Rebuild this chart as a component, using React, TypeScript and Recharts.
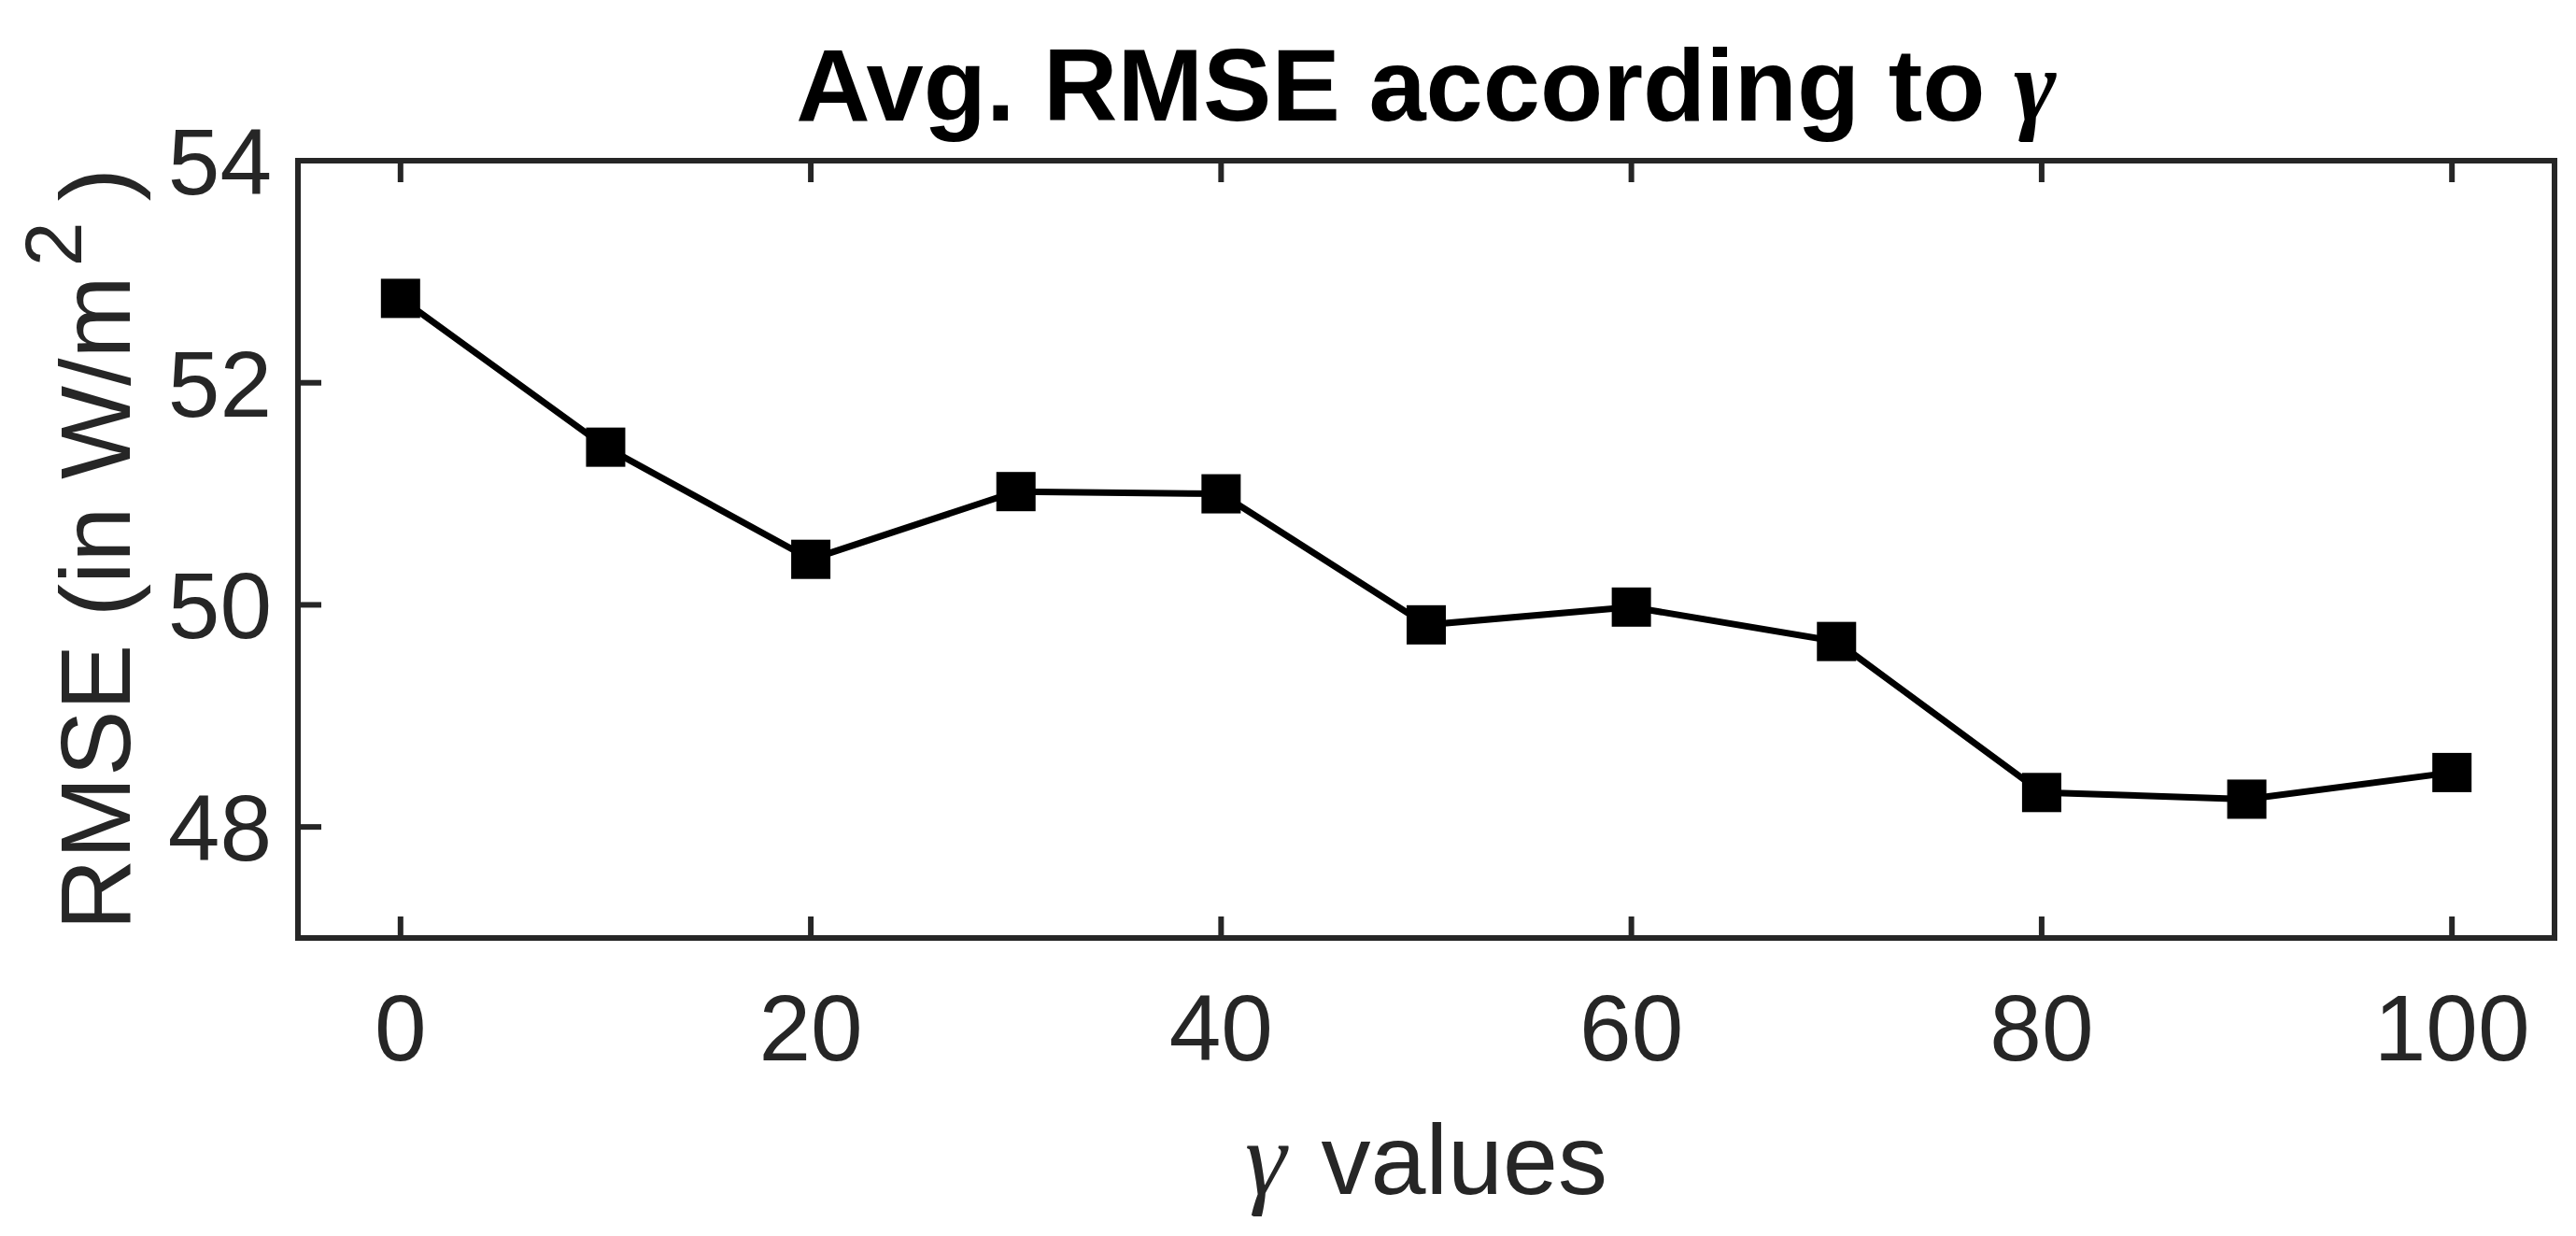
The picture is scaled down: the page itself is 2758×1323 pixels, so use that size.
import React from 'react';
import { LineChart, Line, XAxis, YAxis, Label } from 'recharts';

const gammaValues = [0, 10, 20, 30, 40, 50, 60, 70, 80, 90, 100];
const rmseValues = [52.76, 51.42, 50.41, 51.02, 51.0, 49.82, 49.98, 49.67, 48.31, 48.25, 48.49];
const xTicks = [0, 20, 40, 60, 80, 100];
const yTicks = [48, 50, 52, 54];

const data = gammaValues.map((g, i) => ({ gamma: g, rmse: rmseValues[i] }));

const SANS = '"Liberation Sans", Arial, Helvetica, sans-serif';
const SERIF = '"Liberation Serif", "DejaVu Serif", serif';
const AXIS_COLOR = '#262626';

const axisLine = { stroke: AXIS_COLOR, strokeWidth: 6, strokeLinecap: 'square' as const };

// inward ticks, matlab style
const BottomTick = (props: any) => {
  const { x, y, payload } = props;
  return (
    <g>
      <line x1={x} x2={x} y1={y} y2={y - 23} stroke={AXIS_COLOR} strokeWidth={6} />
      <text x={x} y={y + 131} textAnchor="middle" fontFamily={SANS} fontSize={100} fill={AXIS_COLOR}>
        {payload.value}
      </text>
    </g>
  );
};

const TopTick = (props: any) => {
  const { x, y } = props;
  return <line x1={x} x2={x} y1={y} y2={y + 23} stroke={AXIS_COLOR} strokeWidth={6} />;
};

const LeftTick = (props: any) => {
  const { x, y, payload } = props;
  return (
    <g>
      <line x1={x} x2={x + 25} y1={y} y2={y} stroke={AXIS_COLOR} strokeWidth={6} />
      <text x={x - 28} y={y + 36} textAnchor="end" fontFamily={SANS} fontSize={100} fill={AXIS_COLOR}>
        {payload.value}
      </text>
    </g>
  );
};

const RightTick = (props: any) => {
  const { x, y } = props;
  return <line x1={x} x2={x - 25} y1={y} y2={y} stroke={AXIS_COLOR} strokeWidth={6} />;
};

const SquareDot = (props: any) => {
  const { cx, cy, index } = props;
  if (cx == null || cy == null) return null;
  return <rect key={`dot-${index}`} x={cx - 21} y={cy - 21} width={42} height={42} fill="#000" />;
};

const TitleLabel = (props: any) => {
  const { x, y, width } = props.viewBox;
  return (
    <text
      x={x + width / 2}
      y={y - 42}
      textAnchor="middle"
      fontFamily={SANS}
      fontWeight="bold"
      fontSize={110}
      fill="#000"
    >
      Avg. RMSE according to{' '}
      <tspan fontFamily={SERIF} fontStyle="italic">γ</tspan>
    </text>
  );
};

const XLabel = (props: any) => {
  const { x, y, width } = props.viewBox;
  return (
    <text
      x={x + width / 2}
      y={y + 274}
      textAnchor="middle"
      fontFamily={SANS}
      fontSize={106}
      fill={AXIS_COLOR}
    >
      <tspan fontFamily={SERIF} fontStyle="italic" fontSize={112}>γ</tspan>
      <tspan dx={8}> values</tspan>
    </text>
  );
};

const YLabel = (props: any) => {
  const { y, height } = props.viewBox;
  const cx = 139;
  const cy = y + height / 2;
  return (
    <text
      x={cx}
      y={cy}
      transform={`rotate(-90, ${cx}, ${cy})`}
      textAnchor="middle"
      fontFamily={SANS}
      fontSize={106}
      fill={AXIS_COLOR}
    >
      RMSE (in W/m
      <tspan fontSize={86} dx={10} dy={-52}>2</tspan>
      <tspan dx={22} dy={52}>)</tspan>
    </text>
  );
};

export default function App() {
  return (
    <div style={{ position: 'absolute', left: 0, top: 0, background: '#fff' }}>
      <LineChart
        width={2758}
        height={1323}
        data={data}
        margin={{ top: 171, right: 22, bottom: 0, left: 0 }}
      >
        <XAxis
          dataKey="gamma"
          type="number"
          domain={[-5, 105]}
          ticks={xTicks}
          interval={0}
          height={319}
          axisLine={axisLine}
          tickLine={false}
          tickSize={0}
          tickMargin={0}
          tick={<BottomTick />}
        >
          <Label content={<XLabel />} />
        </XAxis>
        <XAxis
          xAxisId="top"
          dataKey="gamma"
          type="number"
          orientation="top"
          domain={[-5, 105]}
          ticks={xTicks}
          interval={0}
          height={1}
          axisLine={axisLine}
          tickLine={false}
          tickSize={0}
          tickMargin={0}
          tick={<TopTick />}
        >
          <Label content={<TitleLabel />} />
        </XAxis>
        <YAxis
          type="number"
          domain={[47, 54]}
          ticks={yTicks}
          interval={0}
          width={319}
          axisLine={axisLine}
          tickLine={false}
          tickSize={0}
          tickMargin={0}
          tick={<LeftTick />}
        >
          <Label content={<YLabel />} />
        </YAxis>
        <YAxis
          yAxisId="right"
          type="number"
          orientation="right"
          domain={[47, 54]}
          ticks={yTicks}
          interval={0}
          width={1}
          axisLine={axisLine}
          tickLine={false}
          tickSize={0}
          tickMargin={0}
          tick={<RightTick />}
        />
        <Line
          type="linear"
          dataKey="rmse"
          stroke="#000"
          strokeWidth={7}
          dot={<SquareDot />}
          activeDot={false}
          isAnimationActive={false}
        />
      </LineChart>
    </div>
  );
}
